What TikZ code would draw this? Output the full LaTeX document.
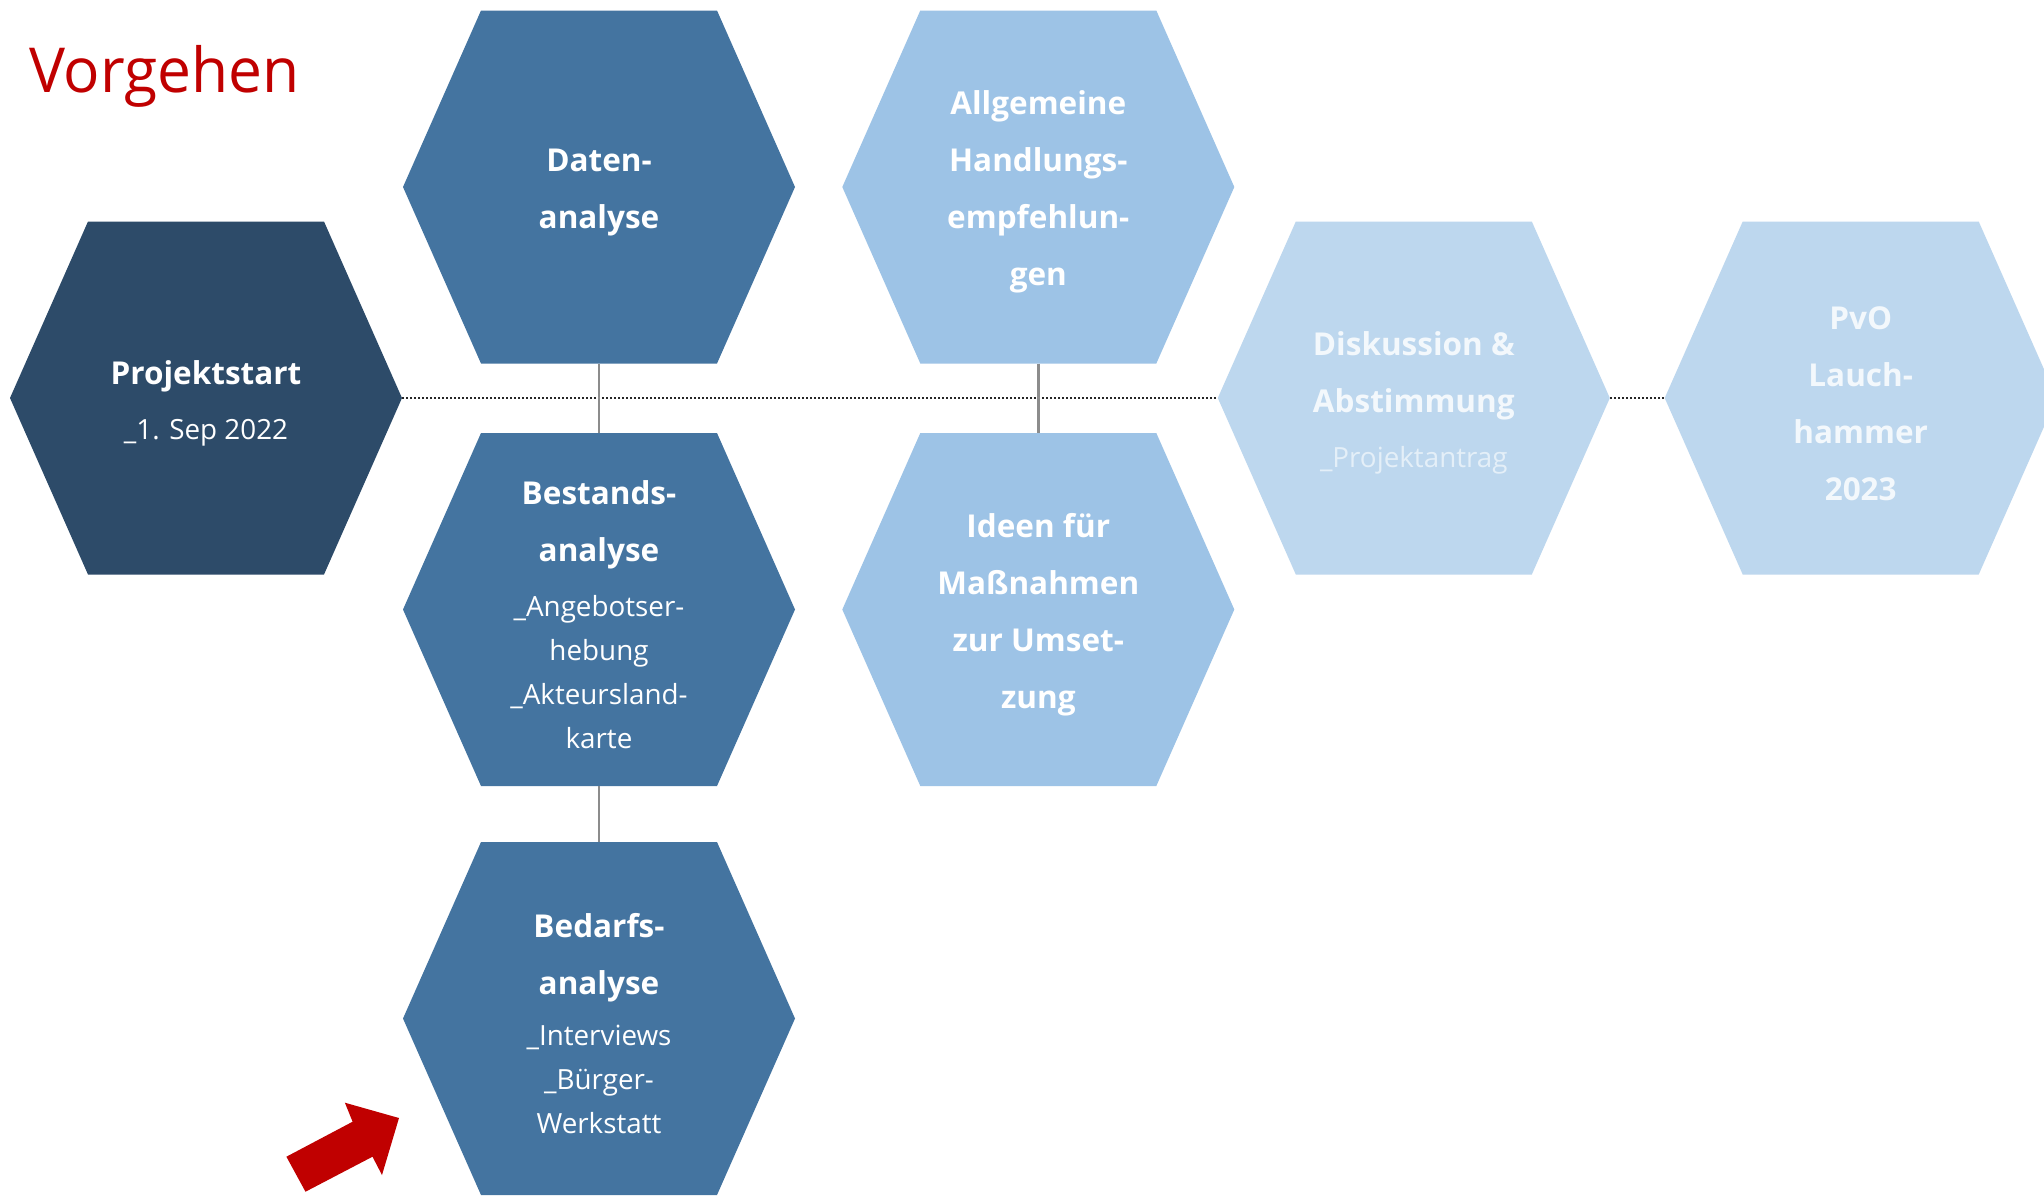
\documentclass[tikz,border=0pt]{standalone}
\usepackage{fontspec}
\setmainfont{Open Sans}
\newfontfamily\titlefont[FakeStretch=0.975]{Open Sans}
\definecolor{navy}{HTML}{2D4B69}
\definecolor{midblue}{HTML}{4474A0}
\definecolor{lightblue}{HTML}{9DC3E6}
\definecolor{paleblue}{HTML}{BDD7EE}
\definecolor{vred}{HTML}{C00000}
\definecolor{linkgray}{HTML}{8C8C8C}
\colorlet{paletext}{white!82!paleblue}
\colorlet{palesub}{white!60!paleblue}
\newcommand\hb[1]{{\fontsize{31.5}{57}\selectfont\bfseries #1}}
\newcommand\hf[1]{\hb{\rule{0pt}{34pt}#1}}
\newcommand\hs[1]{{\fontsize{27.8}{44}\selectfont #1}}
\tikzset{
  hexnode/.style={rectangle, minimum width=392pt, minimum height=353pt,
    inner sep=0pt, align=center, text=white, font=\fontsize{31.5}{57}\selectfont,
    path picture={\fill[#1]
      ([xshift=78pt]path picture bounding box.north west) --
      ([xshift=-78pt]path picture bounding box.north east) --
      (path picture bounding box.east) --
      ([xshift=-78pt]path picture bounding box.south east) --
      ([xshift=78pt]path picture bounding box.south west) --
      (path picture bounding box.west) -- cycle;}},
  link/.style={draw=linkgray, line width=2.5pt},
  timeline/.style={draw=black!85, line width=2.5pt, dash pattern=on 2pt off 2pt},
}
\begin{document}
\begin{tikzpicture}[x=1pt,y=-1pt]
\useasboundingbox (0,0) rectangle (2044,1195);
\clip (0,0) rectangle (2044,1195);
\fill[white] (0,0) rectangle (2044,1195);

\node[anchor=base west, inner sep=0pt, text=vred,
  font=\titlefont\fontsize{62}{70}\selectfont] (title) at (29,92) {Vorgehen};

\node[hexnode=navy] (projekt) at (206,398)
  {\hf{Projektstart}\\[-2pt] \hs{\_1. Sep 2022}};
\node[hexnode=midblue] (daten) at (599,187)
  {\hf{Daten-}\\ \hb{analyse}};
\node[hexnode=midblue] (bestand) at (599,609.5)
  {\hf{Bestands-}\\ \hb{analyse}\\[-2pt] \hs{\_Angebotser-}\\[-13pt] \hs{hebung}\\[-13pt]
   \hs{\_Akteursland-}\\[-13pt] \hs{karte}};
\node[hexnode=midblue] (bedarf) at (599,1018.5)
  {\hf{Bedarfs-}\\ \hb{analyse}\\[-6pt] \hs{\_Interviews}\\[-13pt] \hs{\_Bürger-}\\[-13pt]
   \hs{Werkstatt}};
\node[hexnode=lightblue] (allg) at (1038.3,187)
  {\hf{Allgemeine}\\ \hb{Handlungs-}\\ \hb{empfehlun-}\\ \hb{gen}};
\node[hexnode=lightblue] (ideen) at (1038.3,609.5)
  {\hf{Ideen für}\\ \hb{Maßnahmen}\\ \hb{zur Umset-}\\ \hb{zung}};
\node[hexnode=paleblue, text=paletext] (disk) at (1413.8,398)
  {\hf{Diskussion \&}\\ \hb{Abstimmung}\\[-2pt] \hs{\color{palesub}\_Projektantrag}};
\node[hexnode=paleblue, text=paletext] (pvo) at (1860.7,398)
  {\hf{PvO}\\ \hb{Lauch-}\\ \hb{hammer}\\ \hb{2023}};

\draw[timeline] (projekt.east) -- (disk.west);
\draw[timeline] (disk.east) -- (pvo.west);
\draw[link] (daten.south) -- (bestand.north);
\draw[link] (bestand.south) -- (bedarf.north);
\draw[link] (allg.south) -- (ideen.north);

\fill[vred] (286.4,1156.7) -- (352.6,1121.7) -- (344.9,1102.7) -- (399,1118)
  -- (382,1175) -- (372.5,1156.7) -- (305.5,1191.7) -- cycle;
\end{tikzpicture}
\end{document}
